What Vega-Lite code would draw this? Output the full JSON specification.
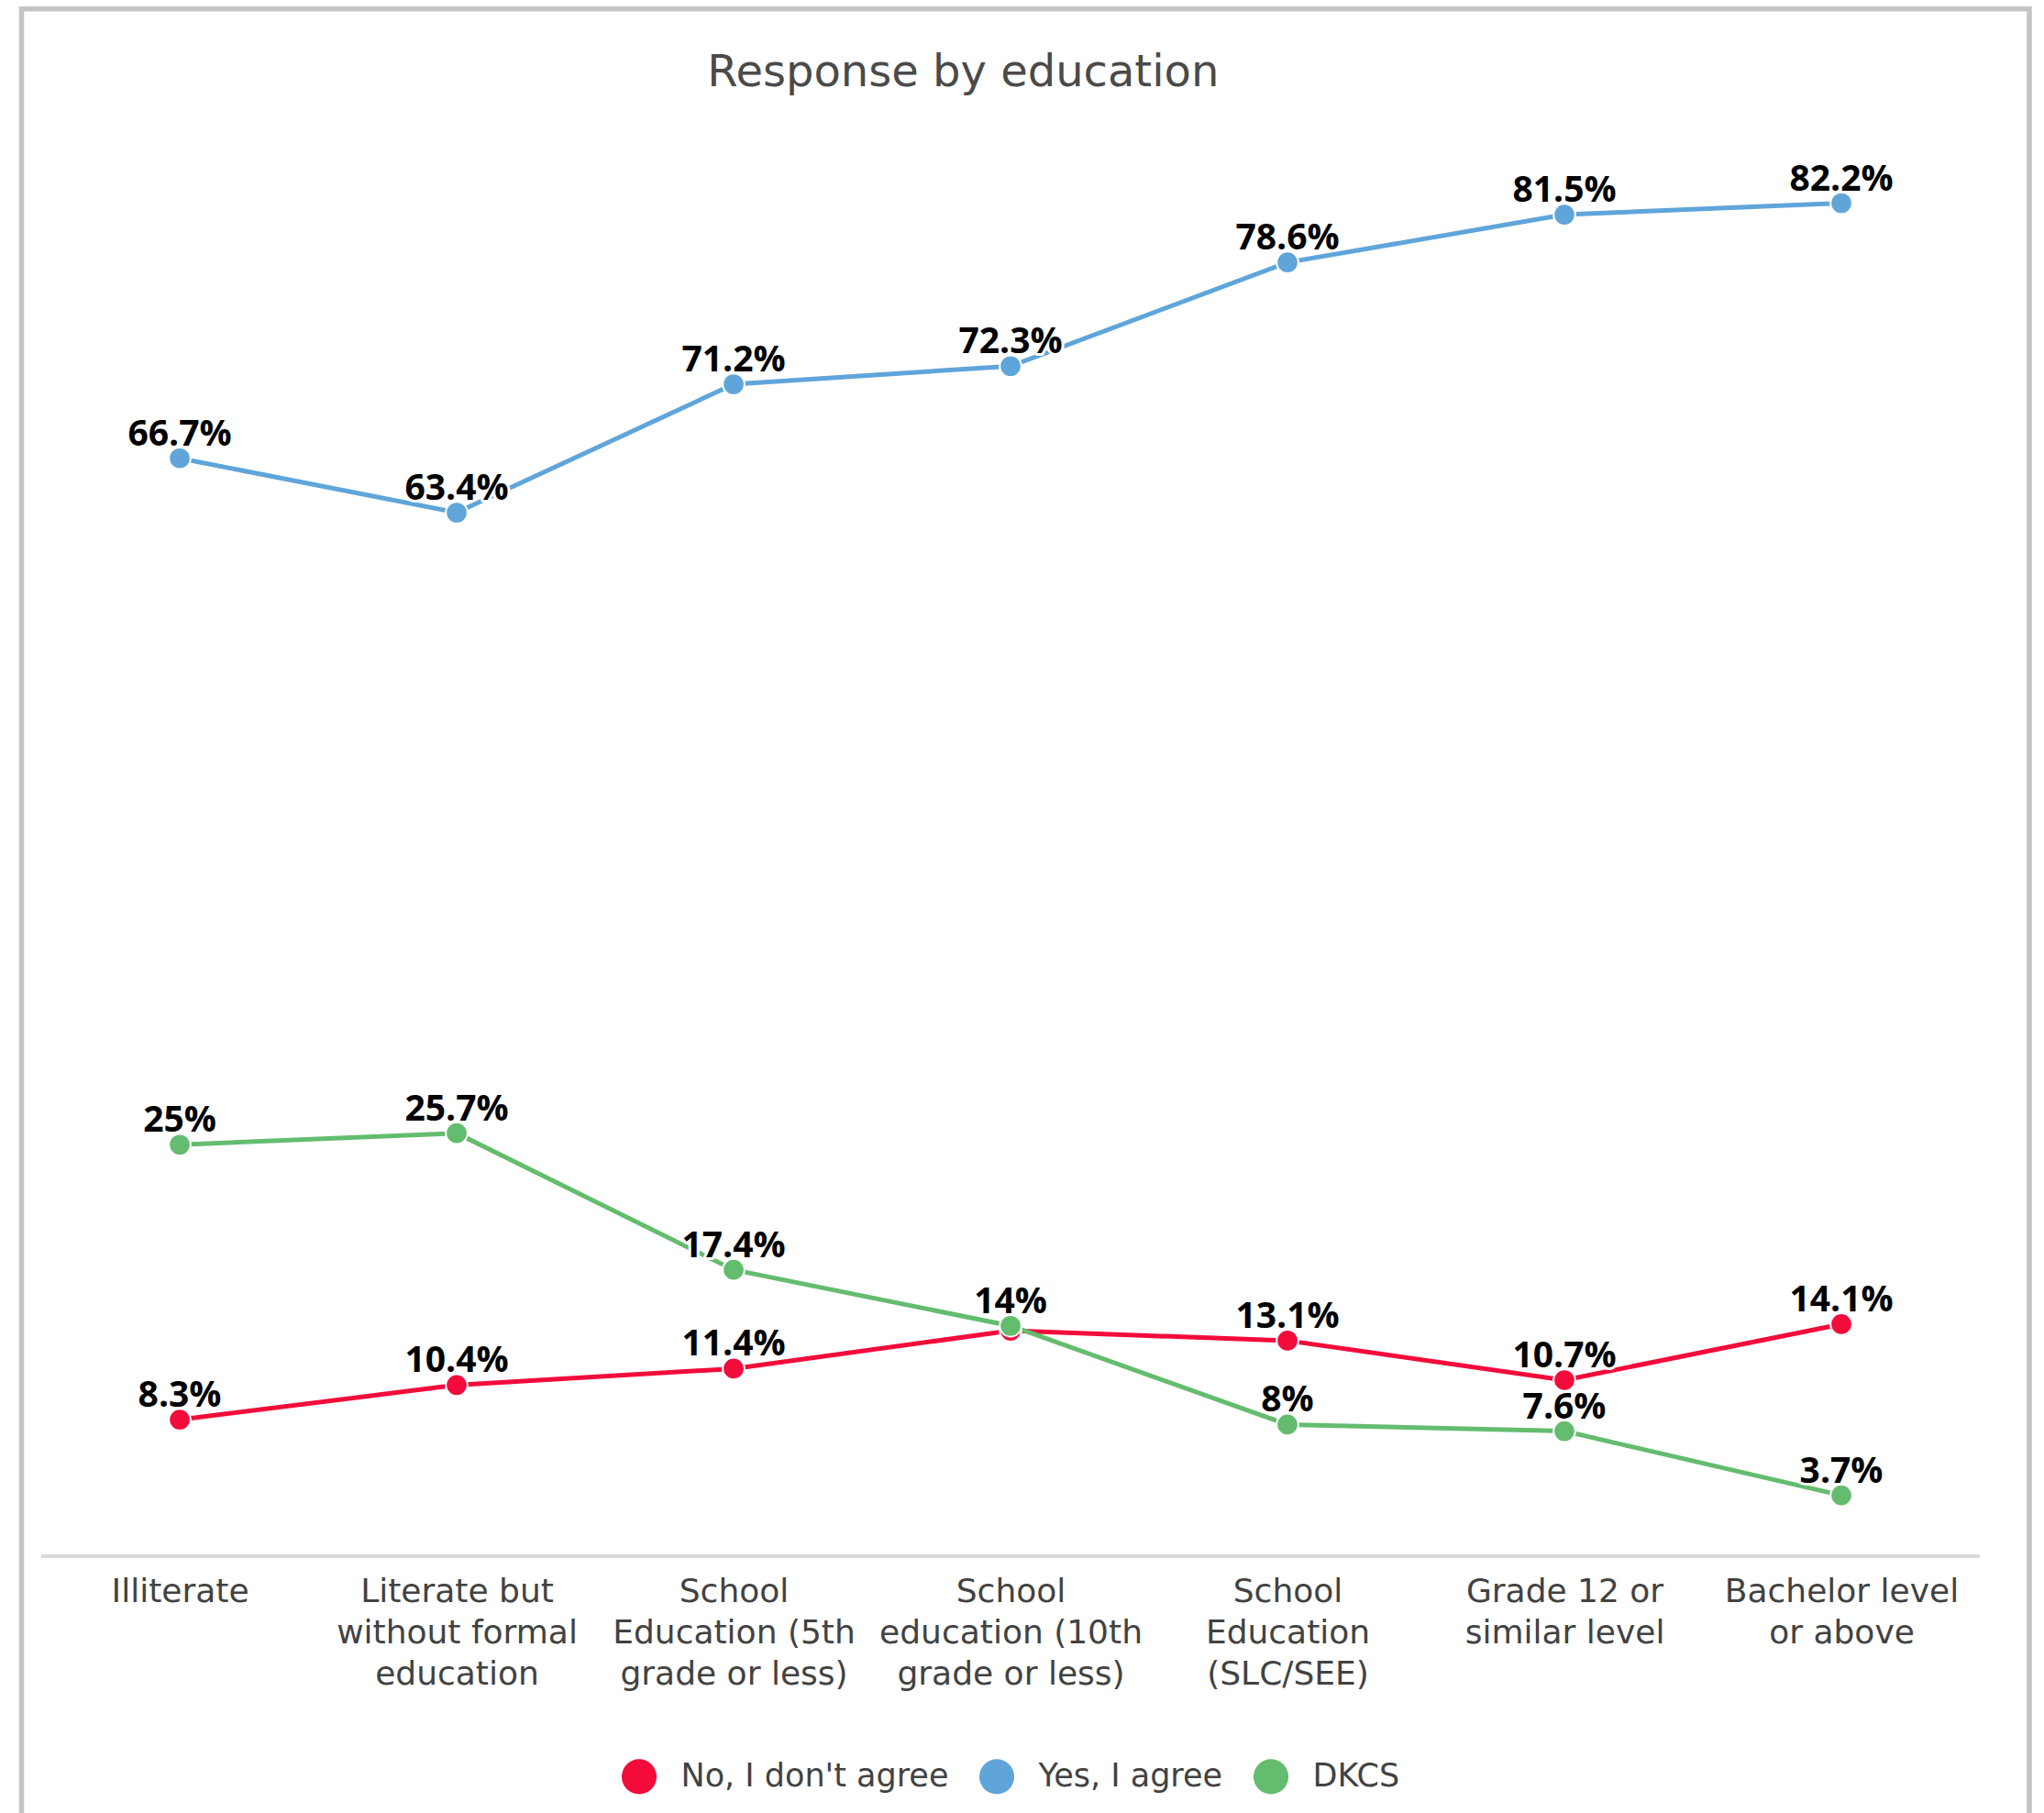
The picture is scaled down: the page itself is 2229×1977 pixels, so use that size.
{
  "$schema": "https://vega.github.io/schema/vega-lite/v6.json",
  "autosize": {"type": "none"},
  "padding": {"left": 23.5, "top": 9.7, "right": 16, "bottom": -4},
  "width": 2189.5,
  "height": 1971.3,
  "background": "white",
  "config": {"view": {"stroke": "#c4c4c4", "strokeWidth": 5.5}},
  "title": {
    "text": "Response by education",
    "font": "DejaVu Sans",
    "fontSize": 48,
    "fontWeight": "normal",
    "color": "#4a4a4a",
    "anchor": "middle",
    "frame": "group",
    "dx": -68,
    "baseline": "alphabetic",
    "offset": -132
  },
  "data": {
    "values": [
      {"education": "Illiterate", "response": "No, I don't agree", "share": 0.083},
      {"education": "Literate but without formal education", "response": "No, I don't agree", "share": 0.104},
      {"education": "School Education (5th grade or less)", "response": "No, I don't agree", "share": 0.114},
      {"education": "School education (10th grade or less)", "response": "No, I don't agree", "share": 0.137},
      {"education": "School Education (SLC/SEE)", "response": "No, I don't agree", "share": 0.131},
      {"education": "Grade 12 or similar level", "response": "No, I don't agree", "share": 0.107},
      {"education": "Bachelor level or above", "response": "No, I don't agree", "share": 0.141},
      {"education": "Illiterate", "response": "Yes, I agree", "share": 0.667},
      {"education": "Literate but without formal education", "response": "Yes, I agree", "share": 0.634},
      {"education": "School Education (5th grade or less)", "response": "Yes, I agree", "share": 0.712},
      {"education": "School education (10th grade or less)", "response": "Yes, I agree", "share": 0.723},
      {"education": "School Education (SLC/SEE)", "response": "Yes, I agree", "share": 0.786},
      {"education": "Grade 12 or similar level", "response": "Yes, I agree", "share": 0.815},
      {"education": "Bachelor level or above", "response": "Yes, I agree", "share": 0.822},
      {"education": "Illiterate", "response": "DKCS", "share": 0.25},
      {"education": "Literate but without formal education", "response": "DKCS", "share": 0.257},
      {"education": "School Education (5th grade or less)", "response": "DKCS", "share": 0.174},
      {"education": "School education (10th grade or less)", "response": "DKCS", "share": 0.14},
      {"education": "School Education (SLC/SEE)", "response": "DKCS", "share": 0.08},
      {"education": "Grade 12 or similar level", "response": "DKCS", "share": 0.076},
      {"education": "Bachelor level or above", "response": "DKCS", "share": 0.037}
    ]
  },
  "encoding": {
    "x": {
      "field": "education",
      "type": "nominal",
      "sort": null,
      "scale": {
        "type": "point",
        "padding": 0.625,
        "align": 0.457,
        "domain": [
          "Illiterate",
          "Literate but without formal education",
          "School Education (5th grade or less)",
          "School education (10th grade or less)",
          "School Education (SLC/SEE)",
          "Grade 12 or similar level",
          "Bachelor level or above"
        ]
      },
      "axis": {
        "title": null,
        "orient": "bottom",
        "offset": -284.3,
        "domain": false,
        "ticks": false,
        "tickSize": 0,
        "grid": false,
        "labelAngle": 0,
        "labelAlign": "center",
        "labelBaseline": "alphabetic",
        "labelPadding": 50,
        "labelFont": "DejaVu Sans",
        "labelFontSize": 36,
        "labelColor": "#424242",
        "labelLineHeight": 45,
        "labelOverlap": false,
        "labelBound": false,
        "labelLimit": 600,
        "labelExpr": "datum.value == 'Literate but without formal education' ? ['Literate but', 'without formal', 'education'] : datum.value == 'School Education (5th grade or less)' ? ['School', 'Education (5th', 'grade or less)'] : datum.value == 'School education (10th grade or less)' ? ['School', 'education (10th', 'grade or less)'] : datum.value == 'School Education (SLC/SEE)' ? ['School', 'Education', '(SLC/SEE)'] : datum.value == 'Grade 12 or similar level' ? ['Grade 12 or', 'similar level'] : datum.value == 'Bachelor level or above' ? ['Bachelor level', 'or above'] : datum.label"
      }
    },
    "y": {
      "field": "share",
      "type": "quantitative",
      "scale": {"domain": [-0.1582, 0.94], "nice": false, "zero": false},
      "axis": null
    },
    "color": {
      "field": "response",
      "type": "nominal",
      "sort": null,
      "scale": {
        "domain": ["No, I don't agree", "Yes, I agree", "DKCS"],
        "range": ["#f30b3c", "#5fa5da", "#64bc6e"]
      },
      "legend": {
        "title": null,
        "orient": "none",
        "direction": "horizontal",
        "legendX": 654,
        "legendY": 1908,
        "padding": 0,
        "symbolType": "circle",
        "symbolSize": 1452,
        "symbolStrokeWidth": 0,
        "symbolOpacity": 1,
        "labelFont": "DejaVu Sans",
        "labelFontSize": 35,
        "labelColor": "#424242",
        "labelOffset": 26,
        "columnPadding": 33,
        "labelLimit": 600
      }
    }
  },
  "layer": [
    {
      "mark": {"type": "rule", "strokeWidth": 3, "color": "#d9d9d9", "xOffset": -151, "x2Offset": 151},
      "encoding": {
        "x": {"datum": "Illiterate", "type": "nominal"},
        "x2": {"datum": "Bachelor level or above"},
        "y": {"datum": 0, "type": "quantitative"},
        "color": {"value": "#d9d9d9"}
      }
    },
    {
      "mark": {"type": "line", "strokeWidth": 5}
    },
    {
      "mark": {"type": "point", "filled": true, "size": 560, "stroke": "white", "strokeWidth": 2, "opacity": 1}
    },
    {
      "transform": [{"filter": "datum.share != 0.137"}],
      "mark": {"type": "text", "font": "Open Sans", "fontWeight": "bold", "fontSize": 39, "baseline": "alphabetic", "align": "center", "dy": -14, "stroke": "white", "strokeWidth": 6, "strokeJoin": "round"},
      "encoding": {
        "text": {"field": "share", "type": "quantitative", "format": ".1~%"},
        "color": {"value": "white"}
      }
    },
    {
      "transform": [{"filter": "datum.share != 0.137"}],
      "mark": {"type": "text", "font": "Open Sans", "fontWeight": "bold", "fontSize": 39, "baseline": "alphabetic", "align": "center", "dy": -14},
      "encoding": {
        "text": {"field": "share", "type": "quantitative", "format": ".1~%"},
        "color": {"value": "black"}
      }
    }
  ]
}
